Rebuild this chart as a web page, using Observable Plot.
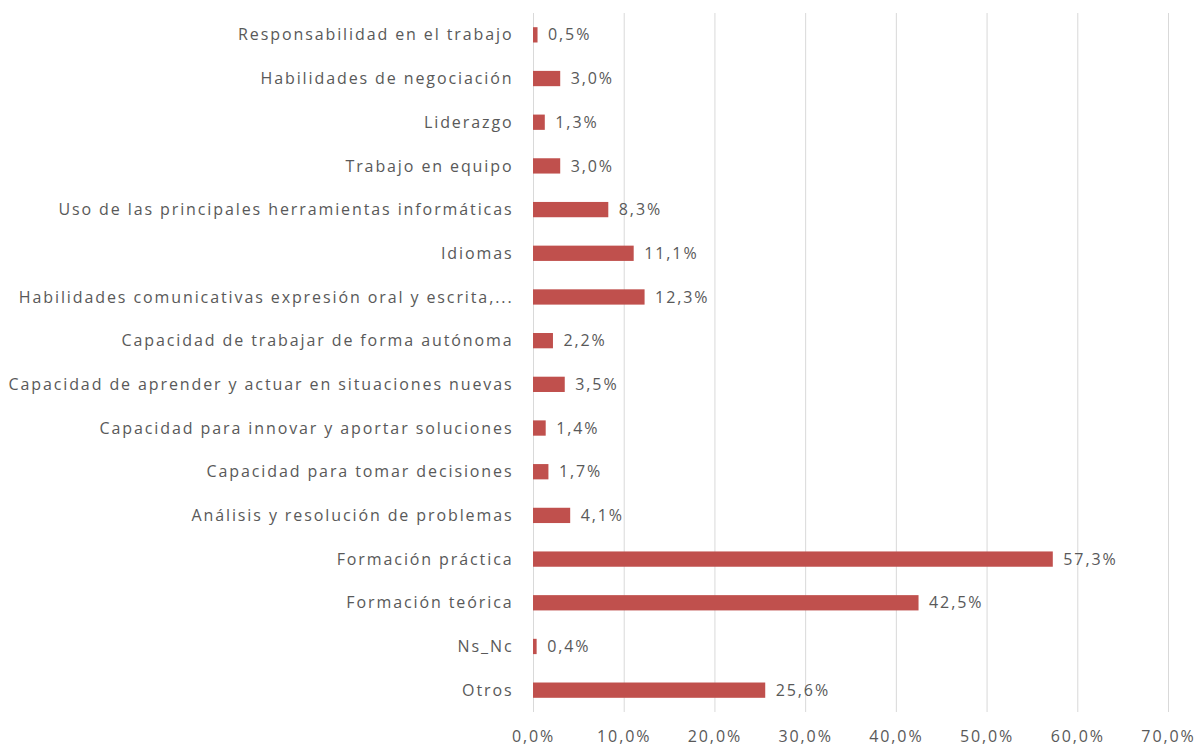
<!DOCTYPE html>
<html>
<head>
<meta charset="utf-8">
<script src="https://cdn.jsdelivr.net/npm/d3@7"></script>
<script src="https://cdn.jsdelivr.net/npm/@observablehq/plot@0.6"></script>
<style>
body { margin: 0; background: #fff; }
#chart svg { font-family: "Open Sans", sans-serif; letter-spacing: 1.9px; }
</style>
</head>
<body>
<div id="chart"></div>
<script>
const categories = [
  "Responsabilidad en el trabajo",
  "Habilidades de negociación",
  "Liderazgo",
  "Trabajo en equipo",
  "Uso de las principales herramientas informáticas",
  "Idiomas",
  "Habilidades comunicativas expresión oral y escrita,...",
  "Capacidad de trabajar de forma autónoma",
  "Capacidad de aprender y actuar en situaciones nuevas",
  "Capacidad para innovar y aportar soluciones",
  "Capacidad para tomar decisiones",
  "Análisis y resolución de problemas",
  "Formación práctica",
  "Formación teórica",
  "Ns_Nc",
  "Otros"
];
const values = [0.5, 3.0, 1.3, 3.0, 8.3, 11.1, 12.3, 2.2, 3.5, 1.4, 1.7, 4.1, 57.3, 42.5, 0.4, 25.6];
const xTicks = [0, 10, 20, 30, 40, 50, 60, 70];

const data = categories.map((c, i) => ({cat: c, v: values[i]}));
const fmt = v => v.toFixed(1).replace(".", ",") + "%";

const plot = Plot.plot({
  width: 1201,
  height: 747,
  marginLeft: 533,
  marginRight: 33,
  marginTop: 13,
  marginBottom: 35,
  style: {fontSize: "16px", color: "#595959", background: "#fff"},
  x: {domain: [0, 70], ticks: xTicks, tickFormat: fmt, label: null},
  y: {domain: categories, label: null, paddingInner: 0.65, paddingOuter: 0.325, round: false},
  marks: [
    Plot.gridX(xTicks, {stroke: "#d9d9d9", strokeOpacity: 1, strokeWidth: 1}),
    Plot.axisX({ticks: xTicks, tickFormat: fmt, tickSize: 0, tickPadding: 18, label: null, fill: "#595959", fontSize: 16}),
    Plot.axisY({tickSize: 0, tickPadding: 20, label: null, fill: "#595959", fontSize: 16}),
    Plot.barX(data, {x: "v", y: "cat", fill: "#c0504d"}),
    Plot.text(data, {x: "v", y: "cat", text: d => fmt(d.v), textAnchor: "start", dx: 10, fill: "#595959", fontSize: 16})
  ]
});
document.getElementById("chart").appendChild(plot);
</script>
</body>
</html>
